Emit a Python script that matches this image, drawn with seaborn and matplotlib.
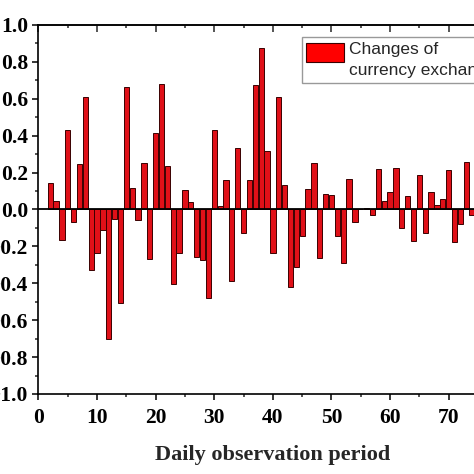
import matplotlib
matplotlib.use("Agg")
import matplotlib.pyplot as plt
from matplotlib.patches import Patch, Rectangle
from matplotlib.legend_handler import HandlerPatch
from matplotlib.ticker import MultipleLocator
import numpy as np
import pandas as pd
import seaborn as sns

# daily changes, days 2..74
days = list(range(2, 75))
changes = [0.145, 0.046, -0.165, 0.433, -0.07, 0.245, 0.611, -0.328, -0.237,
           -0.113, -0.70, -0.05, -0.505, 0.666, 0.115, -0.055, 0.25, -0.27,
           0.413, 0.678, 0.237, -0.405, -0.234, 0.104, 0.04, -0.256, -0.274,
           -0.48, 0.431, 0.019, 0.158, -0.386, 0.335, -0.126, 0.162, 0.673,
           0.874, 0.317, -0.237, 0.61, 0.133, -0.418, -0.31, -0.144, 0.113,
           0.254, -0.261, 0.084, 0.079, -0.144, -0.288, 0.167, -0.066, 0.0,
           0.01, -0.03, 0.22, 0.046, 0.095, 0.223, -0.102, 0.072, -0.169,
           0.189, -0.129, 0.095, 0.023, 0.059, 0.214, -0.178, -0.08, 0.259,
           -0.03]
legend_label = "Changes of\ncurrency exchange rate"
xlabel = "Daily observation period"

df = pd.DataFrame({"day": days, "change": changes})

sns.set_style("ticks")
plt.rcParams["font.family"] = ["Liberation Serif", "DejaVu Serif"]

fig = plt.figure(figsize=(4.74, 4.74), dpi=100)
# axes run past the right/left edges like the cropped original
ax = fig.add_axes([0.0812, 0.1688, 0.989, 0.7785])

sns.barplot(data=df, x="day", y="change", native_scale=True, width=0.9,
            color="#e01018", saturation=1, edgecolor="#3a0000",
            linewidth=0.7, ax=ax)
ax.axhline(0, color="black", lw=1.3, zorder=5)

ax.set_xlim(0, 80)
ax.set_ylim(-1.0, 1.0)
ax.xaxis.set_major_locator(MultipleLocator(10))
ax.xaxis.set_minor_locator(MultipleLocator(5))
ax.yaxis.set_major_locator(MultipleLocator(0.2))
ax.yaxis.set_minor_locator(MultipleLocator(0.1))
ax.set_yticklabels([f"{v:.1f}".replace("-", "\u2212") for v in ax.get_yticks()])

ax.tick_params(axis="both", which="major", direction="out", length=4,
               width=1.1, labelsize=15.5, colors="black")
ax.tick_params(axis="x", which="major", pad=6)
ax.tick_params(axis="both", which="minor", direction="out", length=2.5,
               width=1.1)
for lab in ax.get_xticklabels() + ax.get_yticklabels():
    lab.set_fontweight("bold")

top = ax.secondary_xaxis("top")
top.xaxis.set_major_locator(MultipleLocator(10))
top.xaxis.set_minor_locator(MultipleLocator(5))
top.tick_params(which="major", direction="in", length=5, width=1.1,
                labeltop=False)
top.tick_params(which="minor", direction="in", length=2.5, width=1.1)

for s in ax.spines.values():
    s.set_linewidth(1.2)
    s.set_color("black")
top.spines["top"].set_linewidth(1.2)

ax.set_xlabel(xlabel, fontsize=16, fontweight="bold", labelpad=12)
ax.set_ylabel("")


def top_patch(legend, orig_handle, xdescent, ydescent, width, height, fontsize):
    h = fontsize * 1.1
    return Rectangle((-xdescent, -ydescent + height - h), width, h)


handle = Patch(facecolor="#ff0000", edgecolor="#3a0000", linewidth=0.8)
leg = ax.legend([handle], [legend_label], loc="upper left",
                bbox_to_anchor=(0.5615, 0.9667), borderaxespad=0,
                prop={"family": "Liberation Sans", "size": 12.5,
                      "weight": "normal"},
                handlelength=2.2, handleheight=2.7, handletextpad=0.3,
                borderpad=0.25, fancybox=False, framealpha=1,
                edgecolor="#999999",
                handler_map={Patch: HandlerPatch(patch_func=top_patch)})
leg.get_frame().set_linewidth(1.0)
for t in leg.get_texts():
    t.set_linespacing(1.55)

fig.savefig("out.png", dpi=100)
